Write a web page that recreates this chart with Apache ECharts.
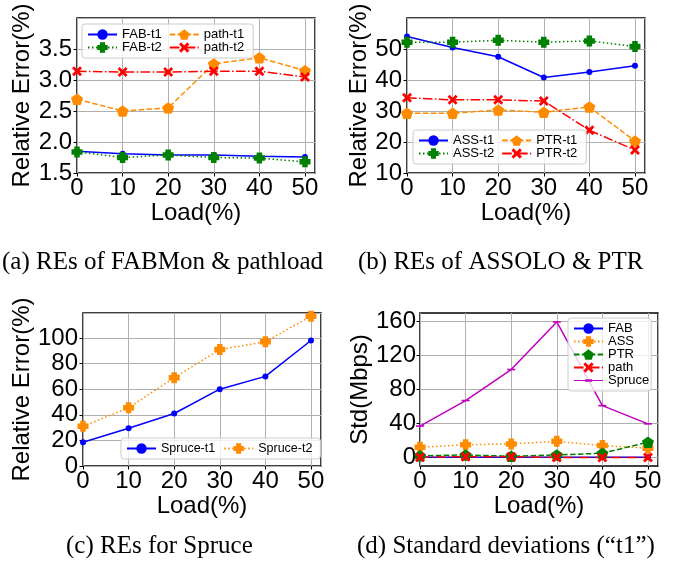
<!DOCTYPE html>
<html>
<head>
<meta charset="utf-8">
<script src="https://cdn.jsdelivr.net/npm/echarts@6/dist/echarts.min.js"></script>
<style>
html, body { margin: 0; padding: 0; background: #fff; }
#chart { width: 683px; height: 571px; }
</style>
</head>
<body>
<div id="chart"></div>
<script>
// x values shared by all panels
const loads = [0, 10, 20, 30, 40, 50];

// (a) REs of FABMon & pathload
const fabT1 = [1.85, 1.81, 1.79, 1.79, 1.77, 1.76];
const fabT2 = [1.84, 1.75, 1.79, 1.75, 1.74, 1.68];
const pathT1 = [2.69, 2.50, 2.55, 3.26, 3.36, 3.15];
const pathT2 = [3.14, 3.13, 3.13, 3.14, 3.14, 3.05];

// (b) REs of ASSOLO & PTR
const assT1 = [54.0, 50.5, 47.5, 40.8, 42.6, 44.6];
const assT2 = [52.2, 52.2, 52.8, 52.2, 52.6, 50.8];
const ptrT1 = [29.3, 29.3, 30.3, 29.6, 31.3, 20.3];
const ptrT2 = [34.3, 33.6, 33.6, 33.2, 23.8, 17.4];

// (c) REs for Spruce
const spruceT1 = [18.5, 29.5, 41, 60, 70, 98];
const spruceT2 = [31, 45.5, 69, 91, 97, 117];

// (d) standard deviations ("t1")
const stdFab = [0.3, 0.3, 0.3, 0.3, 0.3, 0.3];
const stdAss = [12, 15, 16, 19, 14, 11];
const stdPtr = [2, 3, 1.5, 3, 5, 18];
const stdPath = [0.3, 1.0, 1.0, 0, 0, 0];
const stdSpruce = [37, 67, 103.5, 159.5, 61, 39.6];

const captions = ['(a) REs of FABMon & pathload', '(b) REs of ASSOLO & PTR',
  '(c) REs for Spruce', '(d) Standard deviations (\u201ct1\u201d)'];

const BLUE = '#0000ff', GREEN = '#008000', ORANGE = '#ff8c00', RED = '#ff0000', MAGENTA = '#bf00bf';
const PLUS = 'path://M2.5,0H7.5V2.5H10V7.5H7.5V10H2.5V7.5H0V2.5H2.5Z';
const PENT = 'path://M50,0L97.55,34.55L79.39,90.45L20.61,90.45L2.45,34.55Z';
const XMARK = 'path://M0,2L2,0L5,3L8,0L10,2L7,5L10,8L8,10L5,7L2,10L0,8L3,5Z';
const HLINE = 'path://M0,0H10V2H0Z';
// legend icon for the Spruce entry: a thin line with a short thick dash in the middle
const HLINE_ICON = 'path://M0,0L0,0ZM0,6H29V7H0ZM11,5.2H18V7.8H11ZM0,13L0,13Z';
const SOLID = 'solid', DOTTED = [1.5, 2.5], DASHED = [5.5, 2.4], DASHDOT = [9.6, 2.4, 1.5, 2.4];

const FONT = 'Liberation Sans';
const FS = 24;

function pairs(ys) {
  return loads.map((x, i) => [x, ys[i]]);
}

function line(name, idx, ys, color, dash, symbol, size) {
  return {
    name: name,
    type: 'line',
    xAxisIndex: idx,
    yAxisIndex: idx,
    data: pairs(ys),
    symbol: symbol,
    symbolSize: size,
    symbolKeepAspect: true,
    showAllSymbol: true,
    color: color,
    itemStyle: { color: color, opacity: 1 },
    lineStyle: { color: color, width: 1.5, type: dash },
    emphasis: { disabled: true }
  };
}

const grids = [
  { left: 77, top: 18, width: 238, height: 155 },
  { left: 407, top: 18, width: 238, height: 155 },
  { left: 83, top: 313, width: 238, height: 153 },
  { left: 420, top: 313, width: 238, height: 153 }
].map(g => Object.assign(g, { show: true, borderColor: '#000', borderWidth: 1.5, containLabel: false }));

function xAxis(idx) {
  return {
    type: 'value', gridIndex: idx, min: 0, max: 52.2, interval: 10,
    name: 'Load(%)', nameLocation: 'middle', nameGap: 14,
    nameTextStyle: { fontFamily: FONT, fontSize: FS, color: '#000' },
    axisLine: { show: false, onZero: false },
    axisTick: { show: true, length: 3.5, lineStyle: { color: '#000', width: 1 } },
    axisLabel: { fontFamily: FONT, fontSize: FS, color: '#000', margin: 3, showMaxLabel: false },
    splitLine: { show: true, lineStyle: { color: '#b0b0b0', width: 1 } }
  };
}

function yAxis(idx, name, min, max, interval, gap, extra) {
  const ax = {
    type: 'value', gridIndex: idx, min: min, max: max, interval: interval,
    name: name, nameLocation: 'middle', nameGap: gap,
    nameTextStyle: { fontFamily: FONT, fontSize: FS, color: '#000' },
    axisLine: { show: false, onZero: false },
    axisTick: { show: true, length: 3.5, lineStyle: { color: '#000', width: 1 } },
    axisLabel: { fontFamily: FONT, fontSize: FS, color: '#000', margin: 5, showMaxLabel: false },
    splitLine: { show: true, lineStyle: { color: '#b0b0b0', width: 1 } }
  };
  return Object.assign(ax, extra || {});
}

const yTicksD = [0, 40, 80, 120, 160];

function legend(names, pos, width, extra) {
  return Object.assign({
    data: names,
    orient: 'horizontal',
    left: pos[0], top: pos[1], width: width,
    itemWidth: 29, itemHeight: 13, itemGap: 0,
    padding: [4, 2, 4, 5],
    backgroundColor: 'rgba(255,255,255,0.8)',
    borderColor: '#cccccc', borderWidth: 1, borderRadius: 3,
    textStyle: { fontFamily: FONT, fontSize: 13, color: '#000', lineHeight: 13, padding: [0, 7, 0, 0] },
    selectedMode: false
  }, extra || {});
}

const option = {
  animation: false,
  backgroundColor: '#fff',
  title: captions.map((t, i) => ({
    text: t,
    left: [2, 358, 66, 357][i],
    top: [250, 250, 534, 534][i],
    padding: 0,
    textStyle: { fontFamily: 'Liberation Serif', fontSize: 25, fontWeight: 'normal', color: '#000' }
  })),
  grid: grids,
  xAxis: [xAxis(0), xAxis(1), xAxis(2), xAxis(3)],
  yAxis: [
    yAxis(0, 'Relative Error(%)', 1.5, 4.0, 0.5, 38, { axisLabel: { fontFamily: FONT, fontSize: FS, color: '#000', margin: 5, showMaxLabel: false, formatter: v => v.toFixed(1) } }),
    yAxis(1, 'Relative Error(%)', 10, 60, 10, 30),
    yAxis(2, 'Relative Error(%)', 0, 119.5, 20, 43),
    yAxis(3, 'Std(Mbps)', -10, 170, 10, 43, {
      axisTick: { show: true, length: 3.5, customValues: yTicksD, lineStyle: { color: '#000', width: 1 } },
      axisLabel: { fontFamily: FONT, fontSize: FS, color: '#000', margin: 4, customValues: yTicksD }
    })
  ],
  legend: [
    legend(['FAB-t1', 'path-t1', 'FAB-t2', 'path-t2'], [82, 24], 175),
    legend(['ASS-t1', 'PTR-t1', 'ASS-t2', 'PTR-t2'], [413, 130], 175),
    legend(['Spruce-t1', 'Spruce-t2'], [121, 438], 240, { padding: [4, 0, 4, 5], textStyle: { fontFamily: FONT, fontSize: 12.5, color: '#000', lineHeight: 13, padding: [0, 8, 0, 0] } }),
    legend(['FAB', 'ASS', 'PTR', 'path', { name: 'Spruce', icon: HLINE_ICON }], [568, 318], 80,
      { orient: 'vertical', textStyle: { fontFamily: FONT, fontSize: 13, color: '#000', lineHeight: 12.5 } })
  ],
  series: [
    line('FAB-t1', 0, fabT1, BLUE, SOLID, 'circle', 6),
    line('FAB-t2', 0, fabT2, GREEN, DOTTED, PLUS, 11),
    line('path-t1', 0, pathT1, ORANGE, DASHED, PENT, 12),
    line('path-t2', 0, pathT2, RED, DASHDOT, XMARK, 10),

    line('ASS-t1', 1, assT1, BLUE, SOLID, 'circle', 6),
    line('ASS-t2', 1, assT2, GREEN, DOTTED, PLUS, 11),
    line('PTR-t1', 1, ptrT1, ORANGE, DASHED, PENT, 12),
    line('PTR-t2', 1, ptrT2, RED, DASHDOT, XMARK, 10),

    line('Spruce-t1', 2, spruceT1, BLUE, SOLID, 'circle', 6),
    line('Spruce-t2', 2, spruceT2, ORANGE, DOTTED, PLUS, 11),

    line('FAB', 3, stdFab, BLUE, SOLID, 'circle', 6),
    line('ASS', 3, stdAss, ORANGE, DOTTED, PLUS, 11),
    line('PTR', 3, stdPtr, GREEN, DASHED, PENT, 12),
    line('path', 3, stdPath, RED, DASHDOT, XMARK, 10),
    line('Spruce', 3, stdSpruce, MAGENTA, SOLID, HLINE, 8)
  ]
};

const chart = echarts.init(document.getElementById('chart'));
chart.setOption(option);
</script>
</body>
</html>
